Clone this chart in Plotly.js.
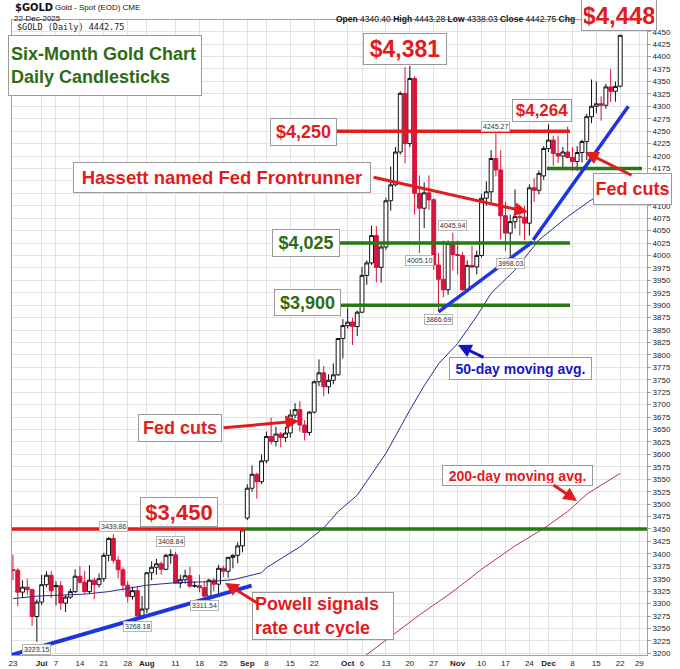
<!DOCTYPE html>
<html><head><meta charset="utf-8">
<script src="https://cdn.plot.ly/plotly-3.0.1.min.js"></script>
<style>html,body{margin:0;padding:0;background:#fff;}#chart{width:680px;height:669px;}</style>
</head><body><div id="chart"></div>
<script>
// ---------- DATA ----------
const dates = [
 '2025-06-23','2025-06-24','2025-06-25','2025-06-26','2025-06-27','2025-06-30',
 '2025-07-01','2025-07-02','2025-07-03','2025-07-07','2025-07-08','2025-07-09','2025-07-10','2025-07-11','2025-07-14','2025-07-15','2025-07-16','2025-07-17','2025-07-18','2025-07-21','2025-07-22','2025-07-23','2025-07-24','2025-07-25','2025-07-28','2025-07-29','2025-07-30','2025-07-31',
 '2025-08-01','2025-08-04','2025-08-05','2025-08-06','2025-08-07','2025-08-08','2025-08-11','2025-08-12','2025-08-13','2025-08-14','2025-08-15','2025-08-18','2025-08-19','2025-08-20','2025-08-21','2025-08-22','2025-08-25','2025-08-26','2025-08-27','2025-08-28','2025-08-29',
 '2025-09-02','2025-09-03','2025-09-04','2025-09-05','2025-09-08','2025-09-09','2025-09-10','2025-09-11','2025-09-12','2025-09-15','2025-09-16','2025-09-17','2025-09-18','2025-09-19','2025-09-22','2025-09-23','2025-09-24','2025-09-25','2025-09-26','2025-09-29','2025-09-30',
 '2025-10-01','2025-10-02','2025-10-03','2025-10-06','2025-10-07','2025-10-08','2025-10-09','2025-10-10','2025-10-13','2025-10-14','2025-10-15','2025-10-16','2025-10-17','2025-10-20','2025-10-21','2025-10-22','2025-10-23','2025-10-24','2025-10-27','2025-10-28','2025-10-29','2025-10-30','2025-10-31',
 '2025-11-03','2025-11-04','2025-11-05','2025-11-06','2025-11-07','2025-11-10','2025-11-11','2025-11-12','2025-11-13','2025-11-14','2025-11-17','2025-11-18','2025-11-19','2025-11-20','2025-11-21','2025-11-24','2025-11-25','2025-11-26','2025-11-28',
 '2025-12-01','2025-12-02','2025-12-03','2025-12-04','2025-12-05','2025-12-08','2025-12-09','2025-12-10','2025-12-11','2025-12-12','2025-12-15','2025-12-16','2025-12-17','2025-12-18','2025-12-19','2025-12-22'
];
const openP = [
 3368,3367,3323,3333,3328,3274,
 3303,3338,3357,3334,3336,3301,3313,3324,3355,3343,3324,3347,3338,3350,3397,3431,3387,3368,3337,3314,3326,3275,
 3289,3362,3373,3380,3369,3397,3398,3341,3348,3356,3335,3336,3332,3315,3347,3339,3371,3365,3393,3397,3416,
 3472,3532,3560,3545,3587,3636,3626,3641,3634,3643,3679,3690,3659,3644,3685,3746,3764,3736,3749,3760,3833,
 3859,3866,3857,3886,3960,3985,4040,3976,4017,4110,4142,4208,4326,4225,4356,4125,4095,4126,4112,3981,3952,3931,4024,
 4002,4000,3931,3980,3977,4000,4115,4128,4195,4172,4080,4045,4068,4078,4077,4065,4136,4131,4160,
 4215,4232,4205,4200,4208,4197,4189,4207,4229,4279,4300,4305,4302,4339,4330,4340.40
];
const highP = [
 3398,3371,3347,3350,3330,3308,
 3358,3365,3365,3345,3345,3317,3330,3369,3375,3366,3377,3352,3361,3402,3434,3439.86,3395,3373,3345,3334,3334,3315,
 3363,3385,3390,3385,3400,3408.84,3404,3358,3368,3374,3345,3358,3345,3350,3351,3378,3376,3393,3399,3423,3453,
 3540,3578,3563,3600,3646,3674,3656,3645,3655,3690,3703,3707,3669,3687,3749,3791,3778,3761,3783,3834,3872,
 3895,3875,3889,3977,3990,4060,4059,4022,4116,4179,4218,4330,4379,4381,4360,4161,4147,4161,4115,4005,4030,4030,4045.94,
 4030,4007,3990,4020,4010,4124,4149,4212,4245.27,4211,4108,4082,4133,4100,4100,4143,4156,4171,4220,
 4264,4241,4241,4218,4259,4218,4220,4233,4285,4354,4350,4320,4345,4375,4350,4443.28
];
const lowP = [
 3347,3295,3311,3317,3255,3223.15,
 3297,3333,3311,3296,3287,3283,3309,3321,3340,3320,3319,3309,3332,3344,3385,3381,3351,3325,3302,3308,3268.18,3270,
 3281,3347,3358,3358,3367,3380,3340,3331,3340,3332,3332,3323,3311.54,3312,3325,3321,3353,3352,3371,3381,3403,
 3468,3525,3511,3540,3582,3620,3616,3614,3625,3634,3673,3646,3628,3638,3682,3737,3717,3722,3741,3758,3793,
 3853,3820,3838,3884,3941,3981,3946,3945,4011,4090,4139,4203,4185,4218,4082,4005.10,4055,4092,3971,3886.69,3916,3921,3970,
 3962,3929,3926,3975,3962,3996,4100,4101,4159,4032,4009,3998.03,4054,4040,4030,4040,4108,4123,4152,
 4208,4180,4186,4176,4195,4170,4170,4187,4192,4266,4286,4271,4295,4308,4309,4338.03
];
const closeP = [
 3367,3323,3333,3328,3274,3303,
 3338,3357,3326,3336,3301,3313,3324,3355,3343,3324,3347,3338,3350,3397,3431,3387,3368,3337,3314,3326,3275,3289,
 3362,3373,3380,3369,3397,3398,3341,3348,3356,3335,3336,3332,3315,3347,3339,3371,3365,3393,3397,3416,3448,
 3532,3560,3545,3587,3636,3626,3641,3634,3643,3679,3690,3659,3644,3685,3746,3764,3736,3749,3760,3833,3859,
 3866,3857,3886,3960,3985,4040,3976,4017,4110,4142,4208,4326,4225,4356,4125,4095,4126,4112,3981,3952,3931,4024,4002,
 4000,3931,3980,3977,4000,4115,4128,4195,4172,4080,4045,4068,4078,4077,4065,4136,4131,4165,4215,
 4232,4205,4200,4208,4197,4189,4207,4229,4279,4300,4305,4302,4339,4330,4340,4442.75
];
// 50-day moving average
const ma50Dates = ['2025-06-23','2025-06-30','2025-07-08','2025-07-15','2025-07-22','2025-07-29','2025-08-01','2025-08-11','2025-08-20','2025-08-27','2025-09-05','2025-09-08','2025-09-17','2025-09-24','2025-09-29','2025-10-03','2025-10-13','2025-10-20','2025-10-23','2025-10-28','2025-11-03','2025-11-07','2025-11-12','2025-11-19','2025-11-26','2025-12-05','2025-12-12','2025-12-22'];
const ma50Values = [3310,3315,3317,3319,3324,3333,3337,3342,3344,3348,3362,3372,3414,3452,3485,3518,3602,3689,3738,3782,3823,3878,3924,3971,4031,4078,4112,4145];
// 200-day moving average
const ma200Dates = ['2025-10-03','2025-10-13','2025-10-22','2025-10-31','2025-11-10','2025-11-19','2025-11-28','2025-12-05','2025-12-11','2025-12-22'];
const ma200Values = [3183,3227,3277,3324,3369,3416,3451,3485,3520,3562];
// price level lines
const levelValues = [3450, 3450, 3900, 4025, 4175, 4250];
// tagged highs/lows
const tagDates  = ['2025-06-30','2025-07-23','2025-07-30','2025-08-08','2025-08-19','2025-10-22','2025-10-28','2025-10-31','2025-11-13','2025-11-18'];
const tagValues = [3223.15,3439.86,3268.18,3408.84,3311.54,4005.10,3886.69,4045.94,4245.27,3998.03];
const tagIsHigh = [false,true,false,true,false,false,false,true,true,false];
// axes
const tickDates = ['2025-06-23','2025-07-01','2025-07-07','2025-07-14','2025-07-21','2025-07-28','2025-08-01','2025-08-11','2025-08-18','2025-08-25','2025-09-02','2025-09-08','2025-09-15','2025-09-22','2025-10-01','2025-10-06','2025-10-13','2025-10-20','2025-10-27','2025-11-03','2025-11-10','2025-11-17','2025-11-24','2025-12-01','2025-12-08','2025-12-15','2025-12-22','2025-12-29'];
const tickLabels = ['23','<b>Jul</b>','7','14','21','28','<b>Aug</b>','11','18','25','<b>Sep</b>','8','15','22','<b>Oct</b>','6','13','20','27','<b>Nov</b>','10','17','24','<b>Dec</b>','8','15','22','29'];
const holidays = ['2025-07-04','2025-09-01','2025-11-27','2025-12-25'];
const priceTicks = [];
for (let v = 3200; v <= 4450; v += 25) priceTicks.push(v);
const hiddenPriceLabels = [4125, 4150];   // covered by the "Fed cuts" box in the reference

// ---------- LAYOUT HELPERS ----------
const L = 12, R = 647, T = 20, B = 655;
const px = x => (x - L) / (R - L);
const py = y => (B - y) / (B - T);
const RED = '#e41a1c', GREEN = '#2e6b12', LINEGREEN = '#267a14', BLUE = '#1c35e0';
const FONT = 'Liberation Sans, Arial, sans-serif';

function box(x0, y0, x1, y1, text, color, size, align) {
  return {xref:'paper', yref:'paper', x: px((x0+x1)/2), y: py((y0+y1)/2),
    xanchor:'center', yanchor:'middle', showarrow:false, text:text,
    width:(x1-x0)-6, height:(y1-y0)-6, align: align || 'center', valign:'middle',
    font:{family:FONT, size:size, color:color},
    bgcolor:'#ffffff', bordercolor:'#9a9a9a', borderwidth:1, borderpad:2};
}
function arrow(tx, ty, sx, sy, color) {
  return {xref:'paper', yref:'paper', x: px(tx), y: py(ty), ax: sx - tx, ay: sy - ty,
    text:'', showarrow:true, arrowhead:2, arrowsize:0.9, arrowwidth:3, arrowcolor:color, standoff:0};
}
function txt(x, y, text, size, anchor, family, color) {
  return {xref:'paper', yref:'paper', x: px(x), y: py(y), xanchor: anchor, yanchor:'middle',
    showarrow:false, text:text, font:{family: family || FONT, size:size, color: color || '#111'}};
}

const annotations = [
  txt(13, 8, '<b>$GOLD</b>', 11, 'left', 'DejaVu Sans Condensed, Liberation Sans Narrow, Liberation Sans'),
  txt(53, 8, 'Gold - Spot (EOD) CME', 8, 'left'),
  txt(12, 19, '22-Dec-2025', 8, 'left'),
  txt(577, 19, '<b>Open</b> 4340.40 <b>High</b> 4443.28 <b>Low</b> 4338.03 <b>Close</b> 4442.75 <b>Chg</b>', 8.5, 'right'),
  txt(15, 27, '$GOLD (Daily) 4442.75', 8.5, 'left', 'DejaVu Sans Mono, monospace', '#222'),
  box(8, 35, 202, 96, '<b>Six-Month Gold Chart<br>Daily Candlesticks</b>', GREEN, 18, 'left'),
  box(363, 33, 447, 65, '<b>$4,381</b>', RED, 23),
  box(581, -1, 657, 31, '<b>$4,448</b>', RED, 24),
  box(512, 99, 572, 122, '<b>$4,264</b>', RED, 17),
  box(270, 118, 337, 146, '<b>$4,250</b>', RED, 18),
  box(73, 162, 371, 193, '<b>Hassett named Fed Frontrunner</b>', RED, 18.5),
  box(272, 229, 340, 257, '<b>$4,025</b>', GREEN, 18),
  box(274, 289, 341, 316, '<b>$3,900</b>', GREEN, 18),
  box(138, 414, 222, 442, '<b>Fed cuts</b>', RED, 18),
  box(140, 497, 218, 527, '<b>$3,450</b>', RED, 22),
  box(252, 592, 394, 640, '<b>Powell signals<br>rate cut cycle</b>', RED, 18, 'left'),
  box(593, 173, 672, 205, '<b>Fed cuts</b>', RED, 18),
  box(449, 357, 592, 380, '<b>50-day moving avg.</b>', '#1515c8', 14),
  box(442, 465, 593, 486, '<b>200-day moving avg.</b>', RED, 14),
  arrow(528, 212, 372, 177, RED),
  arrow(299, 421, 222, 428, RED),
  arrow(585, 152, 633, 176, RED),
  arrow(225, 583, 259, 604, RED),
  arrow(577, 501, 552, 484, RED),
  arrow(458, 345, 485, 358, '#1515c8')
];
tagDates.forEach((d, k) => {
  annotations.push({xref:'x', yref:'y', x:d, y:tagValues[k], showarrow:false,
    text: tagValues[k].toFixed(2), yanchor: tagIsHigh[k] ? 'bottom' : 'top', yshift: tagIsHigh[k] ? 2 : -2,
    font:{family:FONT, size:7, color:'#333'}, bgcolor:'rgba(255,255,255,0.92)', bordercolor:'#b5b5b5', borderwidth:1, borderpad:1});
});

// level lines: [pixel x0, pixel x1, colour]
const levelStyle = [[12,246,RED],[246,647,LINEGREEN],[341,570,LINEGREEN],[340,570,LINEGREEN],[547,642,LINEGREEN],[337,570,RED]];
const shapes = levelValues.map((v, k) => ({type:'line', layer:'above', xref:'paper', yref:'y',
  x0: px(levelStyle[k][0]), x1: px(levelStyle[k][1]), y0: v, y1: v,
  line:{color: levelStyle[k][2], width: 3.5}}));
// trend lines
shapes.push({type:'line', layer:'above', xref:'x', yref:'y', x0:'2025-06-20 19:12', y0:3197, x1:'2025-09-02 21:36', y1:3336, line:{color:BLUE, width:4}});
shapes.push({type:'line', layer:'above', xref:'x', yref:'y', x0:'2025-10-28', y0:3886.69, x1:'2025-11-24 14:24', y1:4027, line:{color:BLUE, width:3.5}});
shapes.push({type:'line', layer:'above', xref:'x', yref:'y', x0:'2025-11-24 19:12', y0:4031, x1:'2025-12-23 16:48', y1:4300, line:{color:BLUE, width:3.5}});

const traces = [
  {type:'scatter', mode:'lines', x:ma200Dates, y:ma200Values, line:{color:'#b4305e', width:1}, hoverinfo:'skip', showlegend:false},
  {type:'scatter', mode:'lines', x:ma50Dates, y:ma50Values, line:{color:'#2a2a90', width:1}, hoverinfo:'skip', showlegend:false},
  {type:'candlestick', x:dates, open:openP, high:highP, low:lowP, close:closeP,
   increasing:{line:{color:'#111111', width:1}, fillcolor:'#ffffff'},
   decreasing:{line:{color:'#d6143c', width:1}, fillcolor:'#d6143c'},
   whiskerwidth:0, hoverinfo:'skip', showlegend:false}
];

const layout = {
  width:680, height:669, autosize:false,
  margin:{l:L, r:680-R, t:T, b:669-B, pad:0},
  paper_bgcolor:'#ffffff', plot_bgcolor:'#ffffff', showlegend:false,
  boxgap:0.1, boxgroupgap:0.1,
  font:{family:FONT, color:'#222'},
  xaxis:{type:'date', range:['2025-06-20 19:12','2025-12-30 14:24'],
    rangebreaks:[{bounds:['sat','mon']},{values:holidays}],
    rangeslider:{visible:false}, tickmode:'array', tickvals:tickDates, ticktext:tickLabels,
    tickfont:{size:8, color:'#222'}, ticks:'', showgrid:true, gridcolor:'#e2e2e2', gridwidth:1,
    showline:true, linecolor:'#a0a0a0', linewidth:1, mirror:true, zeroline:false, fixedrange:true},
  yaxis:{side:'right', range:[3196.6, 4473.5], tickmode:'array', tickvals:priceTicks,
    ticktext: priceTicks.map(v => hiddenPriceLabels.includes(v) ? '' : String(v)),
    tickfont:{size:8, color:'#222'},
    ticks:'outside', ticklen:3, tickcolor:'#a0a0a0', showgrid:true, gridcolor:'#e2e2e2', gridwidth:1,
    showline:true, linecolor:'#a0a0a0', linewidth:1, mirror:true, zeroline:false, fixedrange:true},
  shapes:shapes, annotations:annotations
};
Plotly.newPlot('chart', traces, layout, {staticPlot:true, displayModeBar:false});
</script></body></html>
